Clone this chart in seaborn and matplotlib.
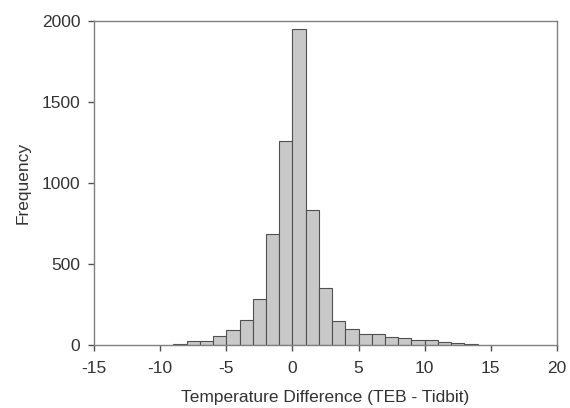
import numpy as np
import matplotlib
matplotlib.use('Agg')
import matplotlib.pyplot as plt
import seaborn as sns

# bin left edges (width 1) and counts
bin_lefts = [-9, -8, -7, -6, -5, -4, -3, -2, -1, 0, 1, 2, 3, 4,
             5, 6, 7, 8, 9, 10, 11, 12, 13]
counts = [3, 22, 26, 55, 89, 151, 280, 683, 1257, 1947, 830, 349, 145, 99,
          67, 67, 49, 44, 32, 32, 17, 10, 4]
x_ticks = [-15, -10, -5, 0, 5, 10, 15, 20]
y_ticks = [0, 500, 1000, 1500, 2000]

sns.set_style('white')
plt.rcParams['font.family'] = ['Liberation Sans', 'DejaVu Sans']

fig = plt.figure(figsize=(5.7, 4.08), dpi=100)
ax = fig.add_axes([0.165, 0.155, 0.812, 0.794])

centers = np.array(bin_lefts) + 0.5
edges = list(bin_lefts) + [bin_lefts[-1] + 1]
sns.histplot(x=centers, weights=counts, bins=edges, ax=ax,
             color='#c8c8c8', edgecolor='#505050', linewidth=0.8, alpha=1)

ax.set_xlim(-15, 20)
ax.set_ylim(0, 2000)
ax.set_xticks(x_ticks)
ax.set_yticks(y_ticks)
ax.set_xticklabels([str(t) for t in x_ticks])
ax.set_yticklabels([str(t) for t in y_ticks])
for s in ax.spines.values():
    s.set_color('#808080')
    s.set_linewidth(1.0)
ax.tick_params(axis='both', direction='out', length=4, width=1, color='#505050',
               labelsize=12.5, labelcolor='#333333', bottom=True, left=True)
ax.tick_params(axis='x', pad=8)
ax.tick_params(axis='y', pad=6)
ax.set_xlabel('Temperature Difference (TEB - Tidbit)', fontsize=12.5,
              color='#333333', labelpad=10)
ax.set_ylabel('Frequency', fontsize=12.5, color='#333333', labelpad=8)

fig.savefig('out.png', dpi=100)
